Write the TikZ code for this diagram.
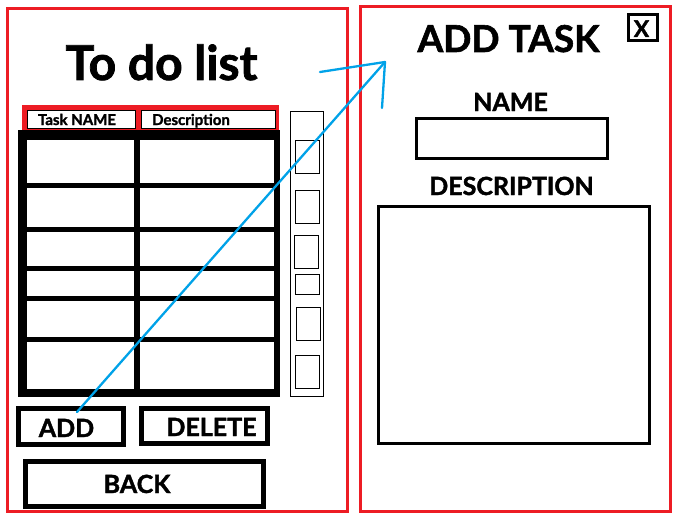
\documentclass[tikz,border=0pt]{standalone}
\usepackage{fontspec}
\setmainfont{Lato}[BoldFeatures={FakeBold=1.6}]
\definecolor{redline}{RGB}{237,28,36}
\definecolor{bluearrow}{RGB}{0,162,232}
\begin{document}
\begin{tikzpicture}[x=1pt,y=-1pt,
  box/.style={draw, rectangle, inner sep=0pt, outer sep=0pt},
  panel/.style={box, draw=redline, line width=3pt},
  btn/.style={box, line width=5pt},
  field/.style={box, line width=3.2pt},
  thinbox/.style={box, line width=1pt},
  lbl/.style={anchor=base, inner sep=0pt, font=\bfseries\fontsize{25}{30}\selectfont},
  smalllbl/.style={anchor=base, inner sep=0pt, font=\bfseries\fontsize{15}{18}\selectfont},
  arrowline/.style={draw=bluearrow, line width=2.3pt, line cap=round}
]
\useasboundingbox (0,0) rectangle (689,519);
\fill[white] (0,0) rectangle (689,519);

% panels
\node[panel, minimum width=340pt, minimum height=503pt] (leftpanel) at (177.5,260) {};
\node[panel, minimum width=310pt, minimum height=505pt] (rightpanel) at (515.5,259) {};

% title
\node[anchor=base, inner sep=0pt, font=\bfseries\fontsize{48}{56}\selectfont] (title) at (161.5,80) {To do list};

% header
\fill[redline] (22,105) rectangle (279,130);
\draw[fill=white, line width=0.8pt] (27,110) rectangle (135,128);
\draw[fill=white, line width=0.8pt] (141,110) rectangle (275,128);
\node[smalllbl] (hname) at (77,125) {Task NAME};
\node[smalllbl] (hdesc) at (191,125) {Description};

% table grid
\fill[black] (18,130) rectangle (280,397);
\foreach \ya/\yb in {140/183,188/227,232/266,271/296,301/337,342/389}{
  \fill[white] (27,\ya) rectangle (134,\yb);
  \fill[white] (140,\ya) rectangle (274,\yb);
}

% scrollbar
\draw[line width=1pt] (290.5,111.5) rectangle (323.5,396.5);
\foreach \xa/\ya/\yb in {295/140/173,295/190/223,294/235/268,295/274/294,296/307/340,295/355/388}{
  \draw[line width=1pt] (\xa+0.5,\ya+0.5) rectangle (\xa+24,\yb);
}

% buttons
\node[btn, minimum width=105pt, minimum height=36pt] (addbtn) at (71,426.5) {};
\node[btn, minimum width=126pt, minimum height=35pt] (delbtn) at (204.5,426) {};
\node[btn, minimum width=238pt, minimum height=45pt] (backbtn) at (144.5,484) {};
\node[lbl] (addtxt) at (66.5,437) {ADD};
\node[lbl] (deltxt) at (211.5,436) {DELETE};
\node[lbl] (backtxt) at (137,493) {BACK};

% right panel content
\node[anchor=base, inner sep=0pt, font=\bfseries\fontsize{37}{44}\selectfont] (addtask) at (508.5,52) {ADD TASK};
\node[field, line width=3pt, minimum width=29pt, minimum height=26pt] (closebox) at (643,27.5) {};
\node[anchor=base, inner sep=0pt, font=\bfseries\fontsize{23}{28}\selectfont] (closex) at (641.5,37) {X};
\node[lbl] (namelbl) at (510.5,111) {NAME};
\node[field, minimum width=191pt, minimum height=40pt] (namebox) at (512,138.5) {};
\node[lbl] (desclbl) at (511.5,195) {DESCRIPTION};
\node[field, minimum width=271pt, minimum height=237pt] (descbox) at (514,325) {};

% blue arrow
\coordinate (addstart) at (77,412);
\coordinate (tip) at (385,62);
\coordinate (headleft) at (320,72);
\coordinate (headdown) at (382,108);
\draw[arrowline] (addstart) -- (tip);
\draw[arrowline] (tip) -- (headleft);
\draw[arrowline] (tip) -- (headdown);
\end{tikzpicture}
\end{document}
